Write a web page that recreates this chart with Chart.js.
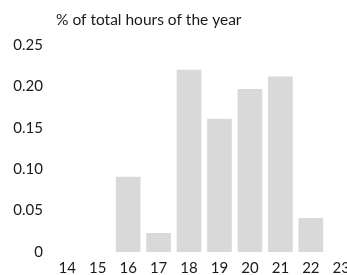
<!DOCTYPE html>
<html>
<head>
<meta charset="utf-8">
<script src="https://cdn.jsdelivr.net/npm/chart.js@4"></script>
<style>
	html, body { margin: 0; padding: 0; overflow: hidden; background: #fff; }
	#wrap { width: 347px; height: 275px; overflow: hidden; }
	canvas { display: block; }
</style>
</head>
<body>
<div id="wrap"><canvas data-chart width="357" height="275"></canvas></div>
<script>
const canvas = document.querySelector('[data-chart]');
const ctx = canvas.getContext('2d');

// Config
const BAR_COLOR = '#d9d9d9';
const TEXT_COLOR = '#1a1a1a';
const FONT_FAMILY = 'Lato, "Open Sans", sans-serif';

const titleText = '% of total hours of the year';
const labels = ['14', '15', '16', '17', '18', '19', '20', '21', '22', '23'];
const dataValues = [0, 0, 0.091, 0.023, 0.22, 0.161, 0.197, 0.212, 0.041, 0];
const yTicks = [0, 0.05, 0.1, 0.15, 0.2, 0.25];

Chart.defaults.font.family = FONT_FAMILY;
Chart.defaults.font.size = 15;
Chart.defaults.color = TEXT_COLOR;

// draws the unit line above the plot, aligned to the plot area
const topTitle = {
	id: 'topTitle',
	afterDraw(chart) {
		const c = chart.ctx;
		c.save();
		c.font = `15.5px ${FONT_FAMILY}`;
		c.fillStyle = TEXT_COLOR;
		c.textBaseline = 'middle';
		c.textAlign = 'left';
		c.fillText(titleText, chart.chartArea.left + 4, 20);
		c.restore();
	}
};

const data = {
	labels,
	datasets: [
		{
			data: dataValues,
			backgroundColor: BAR_COLOR,
			borderWidth: 0,
			barPercentage: 0.81,
			categoryPercentage: 1
		}
	]
};

const options = {
	responsive: false,
	animation: false,
	layout: {
		padding: { top: 45, right: 0, bottom: 0, left: 0 }
	},
	plugins: {
		legend: { display: false },
		tooltip: { enabled: false }
	},
	scales: {
		x: {
			grid: { display: false, drawTicks: false },
			border: { display: false },
			ticks: { padding: 7, maxRotation: 0, autoSkip: false },
			afterFit: (scale) => { scale.height = 23; }
		},
		y: {
			min: 0,
			max: 0.25,
			grid: { display: false, drawTicks: false },
			border: { display: false },
			afterBuildTicks: (scale) => { scale.ticks = yTicks.map((v) => ({ value: v })); },
			ticks: {
				padding: 9,
				callback: (v) => (v === 0 ? '0' : v.toFixed(2))
			},
			afterFit: (scale) => { scale.width = 52; }
		}
	}
};

// Init
new Chart(ctx, {
	type: 'bar',
	data,
	options,
	plugins: [topTitle]
});
</script>
</body>
</html>
